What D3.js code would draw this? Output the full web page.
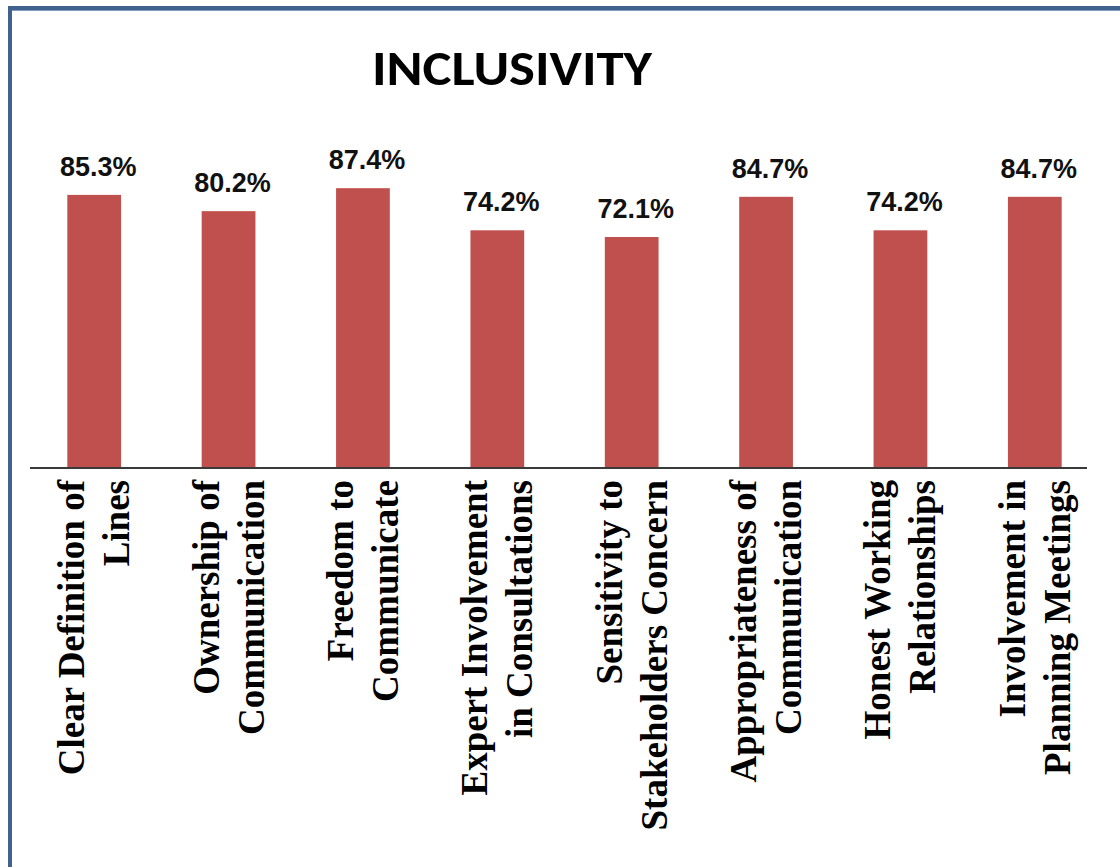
<!DOCTYPE html>
<html>
<head>
<meta charset="utf-8">
<script src="https://cdn.jsdelivr.net/npm/d3@7/dist/d3.min.js"></script>
<style>
  html, body { margin: 0; padding: 0; background: #ffffff; }
  svg { display: block; }
</style>
</head>
<body>
<svg id="chart" width="1120" height="867"></svg>
<script>
// Inclusivity survey results
const categories = [
  "Clear Definition of Lines",
  "Ownership of Communication",
  "Freedom to Communicate",
  "Expert Involvement in Consultations",
  "Sensitivity to Stakeholders Concern",
  "Appropriateness of Communication",
  "Honest Working Relationships",
  "Involvement in Planning Meetings"
];
const values = [85.3, 80.2, 87.4, 74.2, 72.1, 84.7, 74.2, 84.7];
const tickLines = [
  ["Clear Definition of", "Lines"],
  ["Ownership of", "Communication"],
  ["Freedom to", "Communicate"],
  ["Expert Involvement", "in Consultations"],
  ["Sensitivity to", "Stakeholders Concern"],
  ["Appropriateness of", "Communication"],
  ["Honest Working", "Relationships"],
  ["Involvement in", "Planning Meetings"]
];
const title = "INCLUSIVITY";

const svg = d3.select("#chart");
const W = 1120, H = 867;
const baseY = 467;

// frame (runs off the right and bottom edges)
svg.append("rect")
  .attr("x", 10).attr("y", 8)
  .attr("width", W + 20).attr("height", H + 20)
  .attr("fill", "#ffffff")
  .attr("stroke", "#41628f")
  .attr("stroke-width", 4);
svg.append("line")
  .attr("x1", 12).attr("x2", W).attr("y1", 10.5).attr("y2", 10.5)
  .attr("stroke", "#7f9cc4").attr("stroke-width", 1);

const x = d3.scaleBand()
  .domain(categories)
  .range([27, 1102])
  .paddingInner(0.6)
  .paddingOuter(0.3);

const y = d3.scaleLinear()
  .domain([0, 100])
  .range([baseY, baseY - 319]);

// title
svg.append("text")
  .attr("x", 512).attr("y", 85)
  .attr("text-anchor", "middle")
  .attr("font-family", "Carlito, Calibri, Lato, 'Open Sans', sans-serif")
  .attr("font-weight", "bold")
  .attr("font-size", 48)
  .attr("textLength", 280)
  .attr("lengthAdjust", "spacingAndGlyphs")
  .attr("fill", "#000")
  .text(title);

// bars
svg.append("g").selectAll("rect")
  .data(values)
  .join("rect")
  .attr("x", (d, i) => x(categories[i]))
  .attr("width", x.bandwidth())
  .attr("y", d => y(d))
  .attr("height", d => y(0) - y(d))
  .attr("fill", "#c0504d");

// value labels
const fmt = d3.format(".1f");
svg.append("g").selectAll("text")
  .data(values)
  .join("text")
  .attr("x", (d, i) => x(categories[i]) + x.bandwidth() / 2 + 4)
  .attr("y", d => y(d) - 19)
  .attr("text-anchor", "middle")
  .attr("font-family", "'Liberation Sans', Arial, sans-serif")
  .attr("font-weight", "bold")
  .attr("font-size", 27)
  .attr("fill", "#111")
  .text(d => fmt(d) + "%");

// category axis baseline
svg.append("line")
  .attr("x1", 30).attr("x2", 1087)
  .attr("y1", baseY + 1).attr("y2", baseY + 1)
  .attr("stroke", "#3a3a3a")
  .attr("stroke-width", 2);

// rotated two-line category labels
const labels = svg.append("g").selectAll("text")
  .data(categories)
  .join("text")
  .attr("transform", (d, i) =>
    `translate(${x(d) + x.bandwidth() / 2},480) rotate(-90)`)
  .attr("text-anchor", "end")
  .attr("font-family", "'Liberation Serif', 'Times New Roman', serif")
  .attr("font-weight", "bold")
  .attr("font-size", 37)
  .attr("fill", "#000");

labels.each(function (d, i) {
  const t = d3.select(this);
  tickLines[i].forEach((line, j) => {
    t.append("tspan")
      .attr("x", 0)
      .attr("y", j === 0 ? -10 : 35)
      .text(line);
  });
});
</script>
</body>
</html>
